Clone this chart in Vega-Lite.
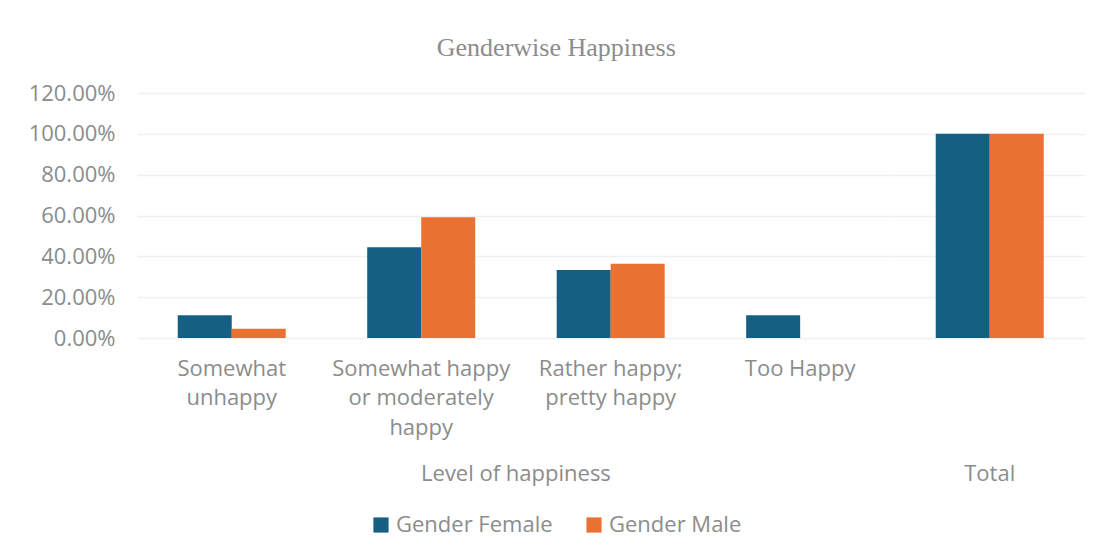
{
  "$schema": "https://vega.github.io/schema/vega-lite/v6.json",
  "background": "white",
  "padding": {"top": 35, "left": 28, "right": 0, "bottom": 8},
  "title": {
    "text": "Genderwise Happiness",
    "font": "Liberation Serif",
    "fontSize": 26,
    "fontWeight": "normal",
    "color": "#8c8c8c",
    "anchor": "middle",
    "offset": 21
  },
  "data": {
    "values": [
      {"group": "Level of happiness", "level": "Somewhat unhappy", "gender": "Gender Female", "share": 0.1111},
      {"group": "Level of happiness", "level": "Somewhat unhappy", "gender": "Gender Male", "share": 0.0455},
      {"group": "Level of happiness", "level": "Somewhat happy or moderately happy", "gender": "Gender Female", "share": 0.4444},
      {"group": "Level of happiness", "level": "Somewhat happy or moderately happy", "gender": "Gender Male", "share": 0.5909},
      {"group": "Level of happiness", "level": "Rather happy; pretty happy", "gender": "Gender Female", "share": 0.3333},
      {"group": "Level of happiness", "level": "Rather happy; pretty happy", "gender": "Gender Male", "share": 0.3636},
      {"group": "Level of happiness", "level": "Too Happy", "gender": "Gender Female", "share": 0.1111},
      {"group": "Level of happiness", "level": "Too Happy", "gender": "Gender Male", "share": 0},
      {"group": "Total", "level": "Total", "gender": "Gender Female", "share": 1.0},
      {"group": "Total", "level": "Total", "gender": "Gender Male", "share": 1.0}
    ]
  },
  "facet": {
    "column": {
      "field": "group",
      "type": "nominal",
      "sort": ["Level of happiness", "Total"],
      "header": {
        "title": null,
        "labelOrient": "bottom",
        "labelFont": "Open Sans",
        "labelFontSize": 22,
        "labelColor": "#8c8c8c",
        "labelPadding": 26
      }
    }
  },
  "spacing": 0,
  "resolve": {"scale": {"x": "independent"}},
  "spec": {
    "width": {"step": 54},
    "height": 245,
    "mark": {"type": "bar"},
    "encoding": {
      "x": {
        "field": "level",
        "type": "nominal",
        "sort": ["Somewhat unhappy", "Somewhat happy or moderately happy", "Rather happy; pretty happy", "Too Happy", "Total"],
        "scale": {"paddingInner": 0.43, "paddingOuter": 0.215},
        "axis": {
          "title": null,
          "labelAngle": 0,
          "domain": false,
          "ticks": false,
          "labelPadding": 20,
          "labelLineHeight": 29.5,
          "labelFont": "Open Sans",
          "labelFontSize": 22,
          "labelColor": "#8c8c8c",
          "labelLimit": 250,
          "labelExpr": "datum.value == 'Somewhat unhappy' ? ['Somewhat', 'unhappy'] : datum.value == 'Somewhat happy or moderately happy' ? ['Somewhat happy', 'or moderately', 'happy'] : datum.value == 'Rather happy; pretty happy' ? ['Rather happy;', 'pretty happy'] : datum.value == 'Total' ? '' : datum.label"
        }
      },
      "xOffset": {"field": "gender", "type": "nominal", "sort": ["Gender Female", "Gender Male"], "scale": {"paddingInner": 0, "paddingOuter": 0}},
      "y": {
        "field": "share",
        "type": "quantitative",
        "scale": {"domain": [0, 1.2], "nice": false},
        "axis": {
          "title": null,
          "values": [0, 0.2, 0.4, 0.6, 0.8, 1.0, 1.2],
          "format": ".2%",
          "domain": false,
          "ticks": false,
          "labelPadding": 22,
          "labelFont": "Open Sans",
          "labelFontSize": 22,
          "labelColor": "#8c8c8c",
          "gridColor": "#efefef",
          "gridWidth": 1.5
        }
      },
      "color": {
        "field": "gender",
        "type": "nominal",
        "sort": ["Gender Female", "Gender Male"],
        "scale": {"domain": ["Gender Female", "Gender Male"], "range": ["#156082", "#E97132"]},
        "legend": {
          "title": null,
          "orient": "bottom",
          "direction": "horizontal",
          "symbolType": "square",
          "symbolSize": 230,
          "symbolStrokeWidth": 0,
          "labelFont": "Open Sans",
          "labelFontSize": 22,
          "labelColor": "#8c8c8c",
          "columnPadding": 30,
          "offset": 29
        }
      }
    }
  },
  "config": {
    "view": {"stroke": null},
    "legend": {"layout": {"bottom": {"anchor": "middle"}}}
  }
}
